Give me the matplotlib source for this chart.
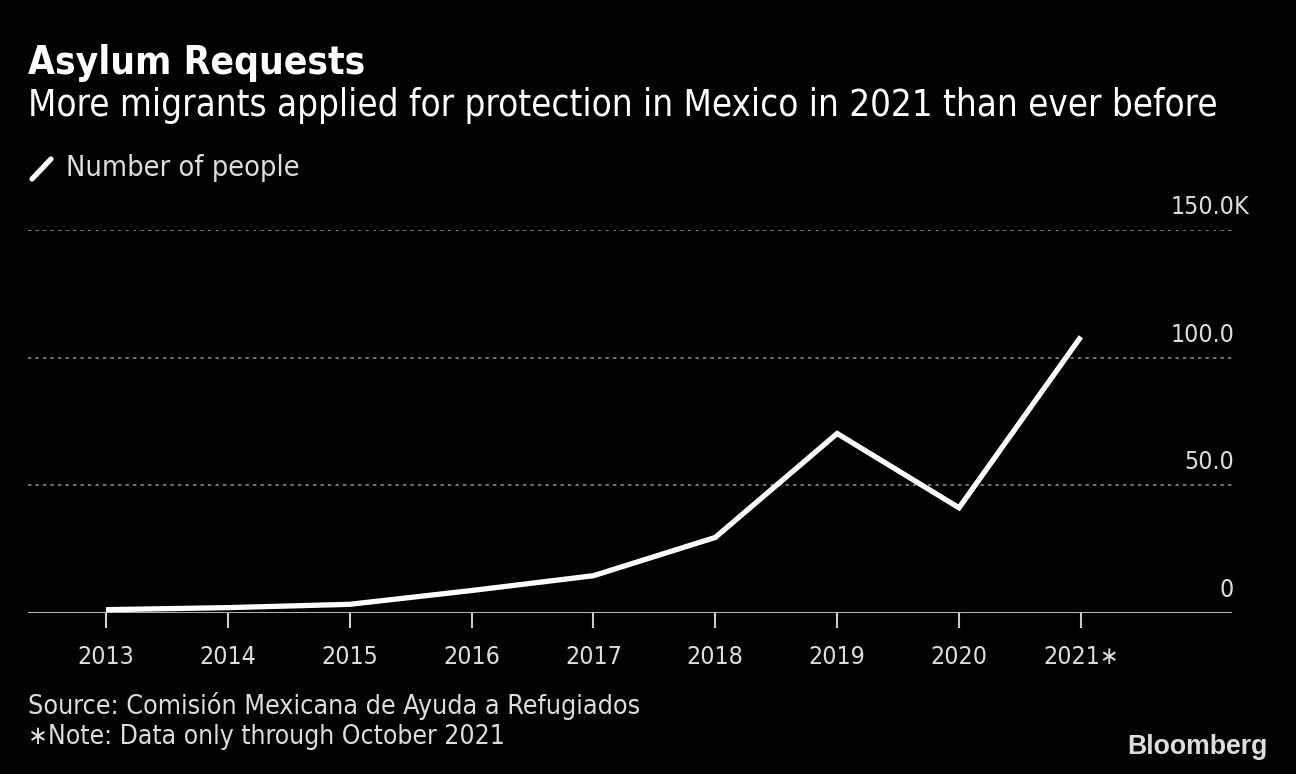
import matplotlib
matplotlib.use("Agg")
import matplotlib.pyplot as plt
from matplotlib import font_manager
from matplotlib.font_manager import FontProperties
from matplotlib.lines import Line2D

years = [2013, 2014, 2015, 2016, 2017, 2018, 2019, 2020, 2021]
year_labels = ["2013", "2014", "2015", "2016", "2017", "2018", "2019", "2020", "2021\u2217"]
requests_k = [1.3, 2.1, 3.4, 8.8, 14.6, 29.6, 70.3, 41.2, 108.2]
y_ticks = [0, 50, 100, 150]
y_tick_labels = ["0", "50.0", "100.0", "150.0"]
y_unit = "K"


def find_font(bold):
    best = None
    for f in font_manager.fontManager.ttflist:
        narrow = ("Narrow" in f.name or "Condensed" in f.name or "Narrow" in f.fname
                  or "Condensed" in f.fname or str(f.stretch) in ("condensed", "semi-condensed"))
        if not narrow:
            continue
        w = f.weight if isinstance(f.weight, int) else (700 if "bold" in str(f.weight) else 400)
        if (w >= 600) != bold or f.style != "normal":
            continue
        score = 0 if "Liberation" in f.name else (1 if "DejaVu" in f.name else 2)
        if best is None or score < best[0]:
            best = (score, f.fname)
    return best[1] if best else None


reg_file = find_font(False)
bold_file = find_font(True)


def fp(bold=False, size=20):
    f = bold_file if bold else reg_file
    if f:
        return FontProperties(fname=f, size=size)
    return FontProperties(family="DejaVu Sans", weight="bold" if bold else "normal", size=size)


W, H = 1296, 774
fig = plt.figure(figsize=(W / 100, H / 100), dpi=100, facecolor="black")
renderer = fig.canvas.get_renderer()


def px(x, y):
    return x / W, 1 - y / H


def measure(s, prop):
    t = fig.text(0, 0, s, fontproperties=prop)
    w = t.get_window_extent(renderer).width
    t.remove()
    return w


def fit_size(s, target_w, bold=False):
    return 20 * target_w / measure(s, fp(bold, 20))


def fit_text(x, y, s, target_w, bold=False, **kw):
    size = fit_size(s, target_w, bold)
    return fig.text(*px(x, y), s, fontproperties=fp(bold, size), **kw)


fit_text(28, 63, "Asylum Requests", 338, bold=True, color="white", va="center", ha="left")
fit_text(28, 105, "More migrants applied for protection in Mexico in 2021 than ever before", 1189,
         color="white", va="center", ha="left")
fit_text(66, 168, "Number of people", 234, color="#dddddd", va="center", ha="left")
fig.add_artist(Line2D([32 / W, 51 / W], [1 - 179 / H, 1 - 159 / H], color="white", lw=3.8,
                      solid_capstyle="round"))
fit_text(28, 706, "Source: Comisi\u00f3n Mexicana de Ayuda a Refugiados", 614, color="#dddddd",
         va="center", ha="left")
fit_text(28, 737, "\u2217Note: Data only through October 2021", 476, color="#dddddd",
         va="center", ha="left")
bsz = 20 * 140 / measure("Bloomberg", FontProperties(family="Liberation Sans", weight="bold", size=20))
fig.text(*px(1268, 747), "Bloomberg", color="#dddddd", va="center", ha="right",
         fontproperties=FontProperties(family="Liberation Sans", weight="bold", size=bsz))

left, right, bottom, top = 28, 1232, 613, 230
ax = fig.add_axes([left / W, 1 - bottom / H, (right - left) / W, (bottom - top) / H])
ax.set_facecolor("black")
ax.set_xlim(2012.36, 2022.24)
ax.set_ylim(0, 150)
for sp in ax.spines.values():
    sp.set_visible(False)
ax.set_yticks([])

for v in y_ticks[1:]:
    ax.axhline(v, color="#8a8a8a", lw=1.2, ls=(0, (2, 2.5)), zorder=1)
ax.axhline(0, color="#cccccc", lw=2, zorder=2)

ax.plot(years, requests_k, color="white", lw=3.8, solid_joinstyle="miter", solid_capstyle="butt",
        zorder=3, clip_on=False)

tick_size = fit_size("2013", 57)
ax.set_xticks(years)
ax.set_xticklabels(year_labels)
ax.tick_params(axis="x", colors="#cccccc", length=11, width=1.5, pad=12, labelcolor="#dddddd")
for lab in ax.get_xticklabels():
    lab.set_fontproperties(fp(False, tick_size))

for v, s in zip(y_ticks, y_tick_labels):
    ax.annotate(s, xy=(1, v), xycoords=("axes fraction", "data"), xytext=(2, 16),
                textcoords="offset pixels", ha="right", va="baseline", color="#dddddd",
                fontproperties=fp(False, tick_size))
ax.annotate(y_unit, xy=(1, y_ticks[-1]), xycoords=("axes fraction", "data"), xytext=(2, 16),
            textcoords="offset pixels", ha="left", va="baseline", color="#dddddd",
            fontproperties=fp(False, tick_size))

fig.savefig("out.png", dpi=100, facecolor="black")
